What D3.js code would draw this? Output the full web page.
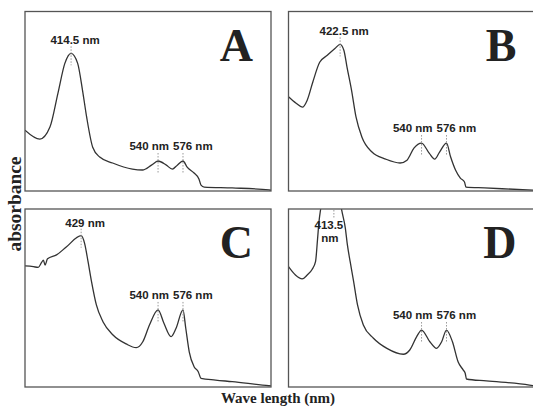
<!DOCTYPE html>
<html>
<head>
<meta charset="utf-8">
<script src="https://cdn.jsdelivr.net/npm/d3@7"></script>
<style>
  body { margin: 0; background: #fff; }
  svg { display: block; }
</style>
</head>
<body>
<svg id="chart" width="533" height="408"></svg>
<script>
// wavelength range shown in every panel (nm)
const xDomain = [348, 703];
const panelNames = ["A", "B", "C", "D"];
const soretPeaks = [414.5, 422.5, 429, 413.5];
const qBands = [540, 576];

// spectra: [wavelength nm, relative absorbance]
const spectrumA = [
  [348, 0.339], [369.5, 0.289], [384, 0.356], [395.5, 0.544], [405.5, 0.711],
  [414.5, 0.767], [424, 0.711], [431, 0.561], [437, 0.411], [445.7, 0.244],
  [455.8, 0.189], [474.4, 0.156], [503, 0.122], [517.5, 0.117], [530.5, 0.144],
  [540, 0.167], [552, 0.144], [560.6, 0.122], [567.8, 0.144], [576, 0.167],
  [582, 0.133], [592, 0.1], [599, 0.067], [602, 0.033], [606.6, 0.022],
  [647, 0.017], [700, 0.006], [703, 0.004]
];
const spectrumB = [
  [348, 0.525], [359, 0.489], [368, 0.467], [375, 0.506], [383, 0.606],
  [393, 0.717], [404, 0.756], [415, 0.794], [422.5, 0.817], [428, 0.783],
  [432.5, 0.689], [439, 0.561], [445.5, 0.411], [454, 0.3], [468.5, 0.217],
  [488, 0.178], [509, 0.156], [519, 0.172], [529, 0.239], [540, 0.267],
  [551, 0.211], [559, 0.178], [566, 0.217], [576, 0.267], [582, 0.189],
  [589, 0.117], [596, 0.072], [602, 0.05], [604, 0.022], [631, 0.017],
  [693, 0.006], [703, 0.004]
];
const spectrumC = [
  [348, 0.68], [360, 0.676], [367, 0.672], [372, 0.7], [374.5, 0.713],
  [377, 0.685], [380.5, 0.72], [393.5, 0.742], [408, 0.788], [429, 0.85],
  [434, 0.807], [439, 0.704], [444, 0.592], [451, 0.461], [460.5, 0.367],
  [475, 0.292], [494, 0.242], [508.5, 0.221], [518, 0.254], [527.6, 0.348],
  [540, 0.433], [548.5, 0.358], [558.8, 0.283], [566, 0.33], [576, 0.433],
  [580, 0.33], [585, 0.198], [592, 0.114], [598, 0.086], [602, 0.049],
  [623, 0.039], [647, 0.03], [700, 0.007], [703, 0.006]
];
const spectrumD = [
  [348, 0.676], [358, 0.629], [367.7, 0.607], [375, 0.629], [382, 0.66],
  [387, 0.704], [390, 0.835], [392, 0.929], [394, 0.989], [400, 1.08],
  [408, 1.14], [413.5, 1.16], [420, 1.1], [425, 0.989], [430, 0.893],
  [433, 0.798], [437, 0.704], [442, 0.592], [447.6, 0.461], [456, 0.348],
  [470.6, 0.274], [490, 0.217], [513.7, 0.184], [523, 0.208], [533, 0.283],
  [540, 0.32], [552, 0.254], [561.6, 0.217], [569, 0.254], [576, 0.32],
  [584.6, 0.254], [592.7, 0.142], [600, 0.096], [603, 0.077], [604.8, 0.045],
  [633.5, 0.034], [695.7, 0.011], [703, 0.006]
];
const spectra = [spectrumA, spectrumB, spectrumC, spectrumD];

const svg = d3.select("#chart");

// panel frames
const colX = [25, 288.5];
const rowY = [[11.5, 191], [209, 387]];
const panelW = 246;

const labelFont = "'Liberation Sans', Arial, sans-serif";
const serifFont = "'Liberation Serif', 'Times New Roman', serif";

spectra.forEach((data, i) => {
    const x0 = colX[i % 2];
    const [top, bottom] = rowY[Math.floor(i / 2)];

    const x = d3.scaleLinear().domain(xDomain).range([x0, x0 + panelW]);
    const y = d3.scaleLinear().domain([0, 1]).range([bottom, top]);

    const g = svg.append("g");

    g.append("clipPath").attr("id", "clip" + i)
        .append("rect")
        .attr("x", x0).attr("y", top)
        .attr("width", panelW).attr("height", bottom - top);

    const line = d3.line()
        .x(d => x(d[0]))
        .y(d => y(d[1]))
        .curve(d3.curveMonotoneX);

    g.append("path")
        .datum(data)
        .attr("clip-path", "url(#clip" + i + ")")
        .attr("fill", "none")
        .attr("stroke", "#333")
        .attr("stroke-width", 1.3)
        .attr("d", line);

    g.append("rect")
        .attr("x", x0).attr("y", top)
        .attr("width", panelW).attr("height", bottom - top)
        .attr("fill", "none")
        .attr("stroke", "#555")
        .attr("stroke-width", 1.3);

    // Soret peak label
    const peak = soretPeaks[i];
    const peakVal = data.find(d => d[0] === peak)[1];
    const px = x(peak);
    const py = y(peakVal);
    const lab = g.append("text")
        .attr("font-family", labelFont)
        .attr("font-weight", "bold")
        .attr("font-size", 11.5)
        .attr("fill", "#222")
        .attr("text-anchor", "middle");

    if (py < top + 15) {
        // peak runs off the top: label sits inside it on two lines
        lab.attr("x", px - 5).attr("y", top + 19.5).text(peak);
        g.append("text")
            .attr("font-family", labelFont)
            .attr("font-weight", "bold")
            .attr("font-size", 11.5)
            .attr("fill", "#222")
            .attr("text-anchor", "middle")
            .attr("x", px - 4).attr("y", top + 32.5)
            .text("nm");
        g.append("line")
            .attr("x1", px).attr("x2", px)
            .attr("y1", top + 1).attr("y2", top + 10)
            .attr("stroke", "#999").attr("stroke-dasharray", "1.5,1.5");
    } else {
        lab.attr("x", px + 4).attr("y", py - 9).text(peak + " nm");
        g.append("line")
            .attr("x1", px).attr("x2", px)
            .attr("y1", py - 7).attr("y2", py + 12)
            .attr("stroke", "#999").attr("stroke-dasharray", "1.5,1.5");
    }

    // Q band labels
    const qy = qBands.map(w => y(data.find(d => d[0] === w)[1]));
    const base = d3.min(qy) - 11;
    qBands.forEach((w, k) => {
        const qx = x(w);
        g.append("text")
            .attr("font-family", labelFont)
            .attr("font-weight", "bold")
            .attr("font-size", 11.5)
            .attr("fill", "#222")
            .attr("text-anchor", k === 0 ? "end" : "start")
            .attr("x", k === 0 ? qx + 11 : qx - 10)
            .attr("y", base)
            .text(w + " nm");
        g.append("line")
            .attr("x1", qx).attr("x2", qx)
            .attr("y1", base + 3).attr("y2", qy[k] + 12)
            .attr("stroke", "#999").attr("stroke-dasharray", "1.5,1.5");
    });

    // panel letter
    g.append("text")
        .attr("font-family", serifFont)
        .attr("font-weight", "bold")
        .attr("font-size", 46)
        .attr("fill", "#222")
        .attr("text-anchor", "end")
        .attr("x", x0 + panelW - 18)
        .attr("y", top + 49)
        .text(panelNames[i]);
});

// axis titles
svg.append("text")
    .attr("transform", "translate(21,204) rotate(-90)")
    .attr("font-family", serifFont)
    .attr("font-weight", "bold")
    .attr("font-size", 18)
    .attr("fill", "#222")
    .attr("text-anchor", "middle")
    .attr("textLength", 95)
    .attr("lengthAdjust", "spacingAndGlyphs")
    .text("absorbance");

svg.append("text")
    .attr("x", 278)
    .attr("y", 403)
    .attr("font-family", serifFont)
    .attr("font-weight", "bold")
    .attr("font-size", 15)
    .attr("fill", "#222")
    .attr("text-anchor", "middle")
    .text("Wave length (nm)");
</script>
</body>
</html>
